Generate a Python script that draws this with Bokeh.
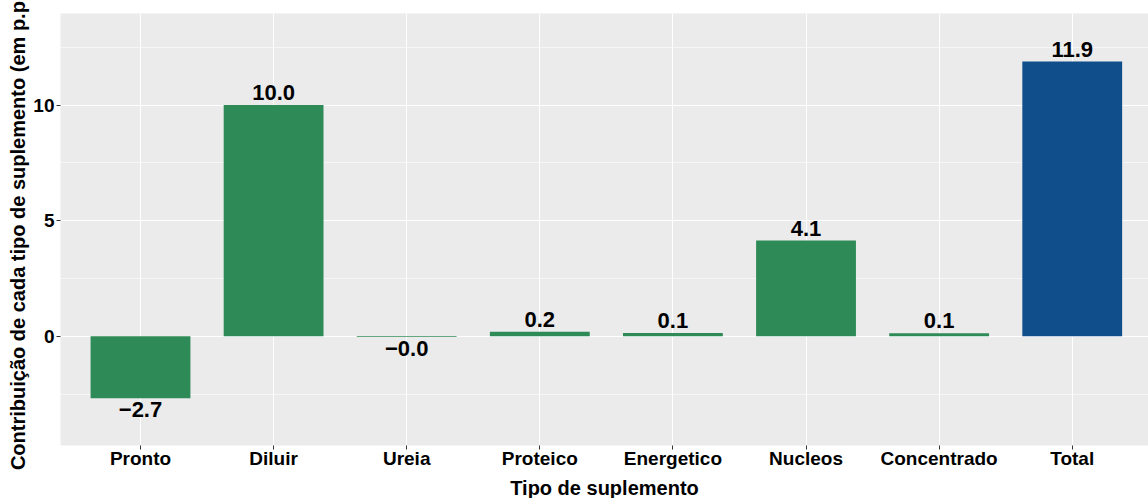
from bokeh.plotting import figure
from bokeh.models import ColumnDataSource, FixedTicker, Range1d, Label, GlobalInlineStyleSheet
from bokeh.embed import file_html
from bokeh.resources import INLINE
from bokeh.core.properties import value

categories = ["Pronto", "Diluir", "Ureia", "Proteico", "Energetico", "Nucleos", "Concentrado", "Total"]
values = [-2.68, 10.0, -0.03, 0.2, 0.14, 4.14, 0.13, 11.88]
y_ticks = [0, 5, 10]
y_minor = [-2.5, 2.5, 7.5, 12.5]

FONT = "Liberation Sans"
GREEN = "#2E8B57"
BLUE = "#104E8B"

xs = list(range(1, len(categories) + 1))
labels = [("%.1f" % v).replace("-", "\u2212") for v in values]
colors = [BLUE if c == "Total" else GREEN for c in categories]

src = ColumnDataSource(dict(x=xs, top=values, col=colors, cat=categories))
pos = ColumnDataSource(dict(x=[x for x, v in zip(xs, values) if v >= 0],
                            y=[v for v in values if v >= 0],
                            lab=[l for l, v in zip(labels, values) if v >= 0]))
neg = ColumnDataSource(dict(x=[x for x, v in zip(xs, values) if v < 0],
                            y=[v for v in values if v < 0],
                            lab=[l for l, v in zip(labels, values) if v < 0]))

p = figure(width=1148, height=501, output_backend="svg", toolbar_location=None,
           x_range=Range1d(0.399, 8.573), y_range=Range1d(-4.72, 13.96),
           min_border_left=60, min_border_right=0, min_border_top=13, min_border_bottom=56,
           margin=(0, 0, 0, 0))
p.stylesheets = [GlobalInlineStyleSheet(css="html, body {margin:0 !important; padding:0 !important; overflow:hidden !important;}")]
p.background_fill_color = "#EBEBEB"
p.border_fill_color = "white"
p.outline_line_color = None

p.vbar(x="x", top="top", bottom=0, width=0.75, fill_color="col", line_color=None, source=src)
common = dict(text="lab", text_align="center", text_font=value(FONT), text_font_style="bold",
              text_font_size="22px", text_color="black")
p.text(x="x", y="y", text_baseline="bottom", y_offset=-5, source=pos, **common)
p.text(x="x", y="y", text_baseline="top", y_offset=4, source=neg, **common)

# axes
p.xaxis.ticker = FixedTicker(ticks=xs)
p.xaxis.major_label_overrides = {i: c for i, c in zip(xs, categories)}
p.yaxis.ticker = FixedTicker(ticks=y_ticks, minor_ticks=y_minor)
for ax in (p.xaxis[0], p.yaxis[0]):
    ax.axis_line_color = None
    ax.major_tick_line_color = "#333333"
    ax.major_tick_in = 0
    ax.major_tick_out = 4
    ax.minor_tick_line_color = None
    ax.major_label_text_font = FONT
    ax.major_label_text_font_style = "bold"
    ax.major_label_text_font_size = "19px"
    ax.major_label_text_color = "black"
    ax.axis_label_text_font = FONT
    ax.axis_label_text_font_style = "bold"
    ax.axis_label_text_font_size = "20px"
    ax.axis_label_text_color = "black"
p.xaxis.axis_label = "Tipo de suplemento"
p.yaxis.axis_label = "Contribui\u00e7\u00e3o de cada tipo de suplemento (em p.p.)"
p.xaxis.major_label_standoff = -2
p.yaxis.major_label_standoff = 2
p.xaxis.axis_label_standoff = 5
p.yaxis.axis_label_standoff = 1

p.xgrid.grid_line_color = "white"
p.xgrid.grid_line_width = 1.1
p.ygrid.grid_line_color = "white"
p.ygrid.grid_line_width = 1.1
p.ygrid.minor_grid_line_color = "white"
p.ygrid.minor_grid_line_width = 0.55

cap = Label(x=7.9, y=-6.8, text="Fonte: ASBRAM", text_font=FONT, text_font_style="bold",
            text_font_size="15px", text_baseline="top", text_color="black")
p.add_layout(cap)

open("out.html", "w").write(file_html(p, INLINE))
